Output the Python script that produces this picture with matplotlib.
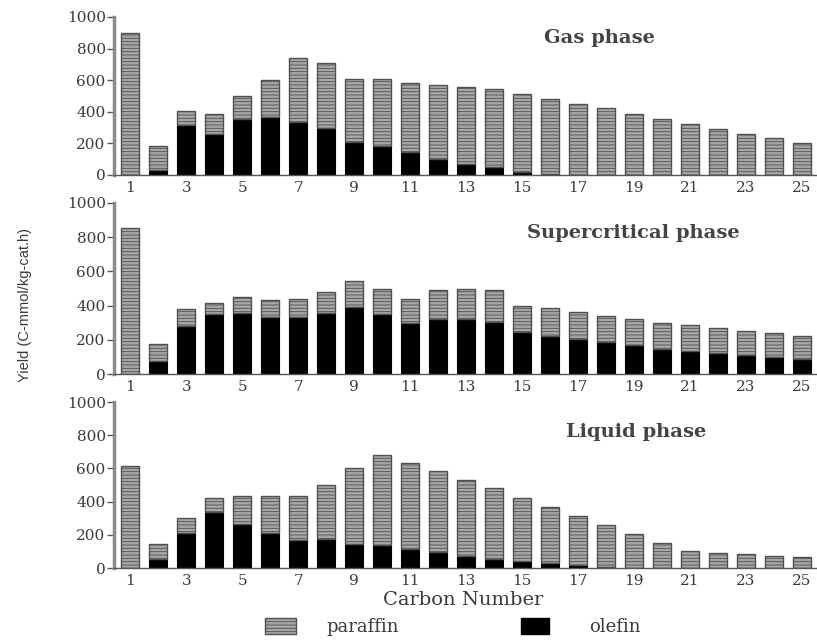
import numpy as np
import matplotlib
matplotlib.use("Agg")
import matplotlib.pyplot as plt
from matplotlib.patches import Patch

carbon = list(range(1, 26))
xtick_labels = [str(c) for c in range(1, 26, 2)]

gas_total = [897, 184, 402, 383, 501, 600, 740, 712, 609, 609, 581, 569, 558, 543, 512,
             484, 450, 423, 385, 355, 321, 290, 262, 233, 205]
gas_olefin = [0, 32, 315, 262, 355, 364, 334, 298, 211, 184, 144, 99, 72, 49, 21,
              5, 0, 0, 0, 0, 0, 0, 0, 0, 0]

sc_total = [853, 178, 381, 414, 453, 430, 441, 480, 541, 500, 441, 492, 500, 492, 400,
            385, 361, 342, 322, 301, 285, 270, 254, 238, 225]
sc_olefin = [0, 78, 283, 352, 359, 332, 332, 359, 393, 350, 301, 324, 320, 305, 246,
             225, 205, 186, 168, 148, 133, 123, 109, 100, 86]

liq_total = [616, 143, 301, 422, 432, 432, 432, 502, 602, 681, 631, 582, 530, 482, 422,
             365, 313, 259, 205, 151, 102, 92, 82, 72, 64]
liq_olefin = [0, 56, 211, 335, 267, 211, 171, 173, 145, 137, 114, 94, 72, 55, 41,
              30, 18, 8, 0, 0, 0, 0, 0, 0, 0]

panels = [
    ("Gas phase", gas_total, gas_olefin),
    ("Supercritical phase", sc_total, sc_olefin),
    ("Liquid phase", liq_total, liq_olefin),
]

W, H = 817, 641
fig = plt.figure(figsize=(W / 100, H / 100), dpi=100)
plt.rcParams['font.family'] = ['DejaVu Serif', 'Liberation Serif']
plt.rcParams['hatch.color'] = '#7a7a7a'
plt.rcParams['hatch.linewidth'] = 0.6

# pixel boxes: (top, bottom)
boxes = [(17, 175), (203, 374), (402, 568)]
left_px, right_px = 114, 816
title_pos = [(599, 38), (633, 233), (636, 432)]

paraffin_color = '#a6a6a6'
edge_color = '#505050'
text_color = '#3a3a3a'

for (title, total, olefin), (top, bot), (tx, ty) in zip(panels, boxes, title_pos):
    ax = fig.add_axes([left_px / W, 1 - bot / H, (right_px - left_px) / W, (bot - top) / H])
    paraffin = [t - o for t, o in zip(total, olefin)]
    ax.bar(carbon, olefin, width=0.66, color='black', edgecolor='black', linewidth=0.8)
    ax.bar(carbon, paraffin, width=0.66, bottom=olefin, color=paraffin_color,
           edgecolor=edge_color, linewidth=1.0, hatch='-----')
    ax.set_xlim(0.42, 25.5)
    ax.set_ylim(0, 1000)
    ax.set_yticks([0, 200, 400, 600, 800, 1000])
    ax.set_xticks(range(1, 26, 2))
    ax.set_xticklabels(xtick_labels)
    for s in ['top', 'right']:
        ax.spines[s].set_visible(False)
    ax.spines['left'].set_color('#8c8c8c')
    ax.spines['left'].set_linewidth(2.5)
    ax.spines['bottom'].set_color('#555555')
    ax.spines['bottom'].set_linewidth(1.0)
    ax.tick_params(axis='y', direction='out', length=5, width=1, color='#555555',
                   labelsize=11, labelcolor=text_color, pad=1)
    ax.tick_params(axis='x', length=0, labelsize=11, labelcolor=text_color, pad=4)
    fig.text(tx / W, 1 - ty / H, title, ha='center', va='center', fontsize=14,
             fontweight='bold', color='#444444')

fig.text(25 / W, 1 - 305 / H, "Yield (C-mmol/kg-cat.h)", rotation=90, ha='center',
         va='center', fontsize=10.5, color=text_color,
         family=['Liberation Sans Narrow', 'Liberation Sans', 'DejaVu Sans'])
fig.text(463 / W, 1 - 600 / H, "Carbon Number", ha='center', va='center', fontsize=14,
         color=text_color)

leg_ax = fig.add_axes([0, 0, 1, 1], frameon=False)
leg_ax.set_axis_off()
h_par = [Patch(facecolor=paraffin_color, edgecolor=edge_color, hatch='-----', label='paraffin')]
h_ole = [Patch(facecolor='black', edgecolor='black', label='olefin')]
fs = 13
px_em = fs * 100 / 72.0
leg_y = 627
leg1 = leg_ax.legend(handles=h_par, loc='center left', bbox_to_anchor=(265 / W, 1 - leg_y / H),
                     frameon=False, fontsize=fs, handlelength=31 / px_em, handleheight=18 / px_em,
                     handletextpad=30 / px_em, borderpad=0, borderaxespad=0, labelcolor=text_color)
leg_ax.add_artist(leg1)
leg2 = leg_ax.legend(handles=h_ole, loc='center left', bbox_to_anchor=(521 / W, 1 - leg_y / H),
                     frameon=False, fontsize=fs, handlelength=28 / px_em, handleheight=18 / px_em,
                     handletextpad=40 / px_em, borderpad=0, borderaxespad=0, labelcolor=text_color)

fig.savefig("out.png", dpi=100)
